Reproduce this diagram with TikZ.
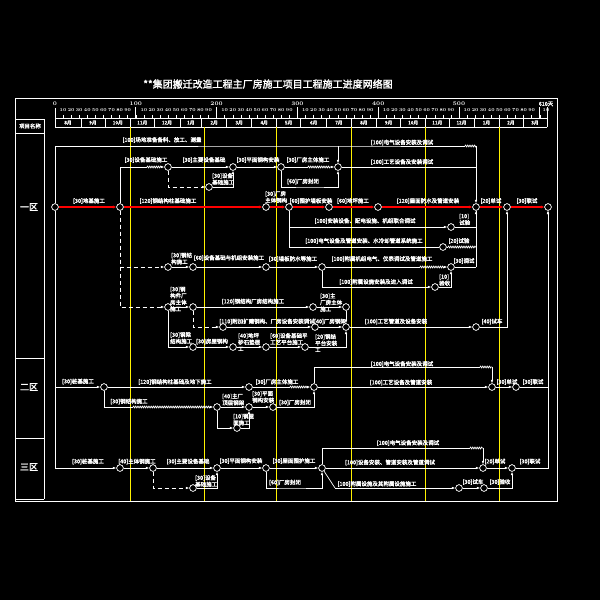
\documentclass[tikz,border=0pt]{standalone}
\usepackage{fontspec}
\newfontfamily\cjk{Noto Sans CJK SC}[AutoFakeBold=2]
\usetikzlibrary{arrows.meta,decorations.pathmorphing}
\begin{document}
\begin{tikzpicture}[x=1pt,y=-1pt,
  nd/.style={circle,draw=white,fill=black,line width=0.6pt,minimum size=6.6pt,inner sep=0pt},
  ln/.style={draw=white,line width=0.7pt},
  ar/.style={ln,-{Latex[length=3.5pt,width=2.6pt]}},
  rar/.style={draw=red,line width=1.8pt,-{Latex[length=3.5pt,width=3.2pt]}},
  ds/.style={dash pattern=on 4pt off 3pt},
  wv/.style={decoration={zigzag,amplitude=0.9pt,segment length=2.2pt}},
  lb/.style={text=white,font=\cjk\bfseries\fontsize{5.5}{6.6}\selectfont,inner sep=0pt,align=left},
  hd/.style={text=white,font=\bfseries\fontsize{4.4}{5}\selectfont,inner sep=0pt},
  hh/.style={text=white,font=\cjk\bfseries\fontsize{5.4}{6}\selectfont,inner sep=0pt},
  fr/.style={draw=white,line width=0.7pt},
  yl/.style={draw=yellow,line width=0.9pt},
]
\fill[black] (0,0) rectangle (600,600);
\useasboundingbox (0,0) rectangle (600,600);

% title
\node[text=white,font=\cjk\bfseries\fontsize{10}{12}\selectfont,inner sep=0pt] (title) at (268,84) {**集团搬迁改造工程主厂房施工项目工程施工进度网络图};

% frame
\draw[fr] (15,98) rectangle (557,501);
\draw[fr] (44,119) -- (44,499);
\draw[fr] (15,119) -- (44,119);
\draw[fr] (15,133) -- (44,133);
\draw[fr] (15,358) -- (44,358);
\draw[fr] (15,438) -- (44,438);
\draw[fr] (15,499) -- (44,499);
\node[hh] (hdr) at (30,126) {项目名称};
\node[text=white,font=\cjk\bfseries\fontsize{9}{10}\selectfont,inner sep=0pt] (z1) at (29,207) {一区};
\node[text=white,font=\cjk\bfseries\fontsize{9}{10}\selectfont,inner sep=0pt] (z2) at (29,387) {二区};
\node[text=white,font=\cjk\bfseries\fontsize{9}{10}\selectfont,inner sep=0pt] (z3) at (29,467) {三区};

% timeline
\draw[fr] (55,108) -- (55,127);
\draw[fr] (547,107) -- (547,127);
\foreach \h/\t in {0/0,1/100,2/200,3/300,4/400,5/500}
  \node[text=white,font=\bfseries\fontsize{5.4}{6}\selectfont,inner sep=0pt] at ({55+80.8*\h},104) {\t};
\node[text=white,font=\cjk\bfseries\fontsize{5.4}{6}\selectfont,inner sep=0pt] at (546,104) {610天};
\foreach \h in {1,...,6} \draw[fr] ({55+80.8*\h},107) -- ({55+80.8*\h},118);
\foreach \h in {0,...,5} \foreach \k in {1,...,9}
  \node[hd] at ({55+80.8*\h+8.08*\k},110.5) {\k0};
\node[hd] at (546,110.5) {10};
\foreach \i in {1,...,60} \draw[white,line width=0.5pt] ({55+8.08*\i},115) -- ({55+8.08*\i},118);
\draw[fr] (55,118) -- (547,118);
\draw[fr] (55,127) -- (547,127);
\foreach \a/\b/\m in {55/81/8月,81/105/9月,105/130.7/10月,130.7/154/11月,154/180/12月,180/201.7/1月,201.7/226.7/2月,226.7/251.7/3月,251.7/276.7/4月,276.7/300.7/5月,300.7/326.7/6月,326.7/351/7月,351/376.7/8月,376.7/400.7/9月,400.7/425.7/10月,425.7/449/11月,449/474/12月,474/499/1月,499/523/2月,523/547/3月}{
  \draw[fr] (\b,118) -- (\b,127);
  \node[hh,font=\cjk\bfseries\fontsize{4.8}{5}\selectfont] at ({(\a+\b)/2},122.7) {\m};
}

% yellow quarter lines
\foreach \x in {130.5,204,276.5,351,425.5,499.3} \draw[yl] (\x,127) -- (\x,501);

% ---------------- nodes
\foreach \n/\x/\y in {A0/55/207,A1/120/207,A2/266/207,A3/289/207,A4/329/207,A5/378/207,A6/476/207,A7/507/207,A8/548/207,
  B1/168/167,B2/233/167,B3/281/167,B4/338/167,B5/209/187,
  G1/451/227,G2/443/247,G3/451/267,G4/435/287,
  H1/168/267,H2/193/267,H3/266/267,H4/322/267,
  I1/168/307,I2/193/307,I3/313/307,I4/346/307,
  J1/223/327,J2/315/327,J3/346/327,J4/476/327,
  K1/193/347,K2/233/347,K3/266/347,K4/305/347,
  C1/104/387,C2/249/387,C3/314/387,C4/492/387,C5/516/387,
  D1/217/407,D2/249/407,D3/273/407,D4/237/428,
  E1/120/468,E2/153/468,E3/217/468,E4/266/468,E5/322/468,E6/483/468,E7/512/468,
  F1/193/488,F2/459/488,F3/484/488}
  \node[nd] (\n) at (\x,\y) {};

% named corner coordinates
\coordinate (t1) at (338,146);
\coordinate (t2) at (465,146);
\coordinate (t3) at (476,146);
\coordinate (b34) at (310,187);
\coordinate (w1) at (147,167);
\coordinate (w2) at (162,167);
\coordinate (w3) at (308,167);
\coordinate (w4) at (331,167);
\coordinate (g2a) at (448,247);
\coordinate (g2b) at (476,247);
\coordinate (h4a) at (420,267);
\coordinate (h4b) at (445,267);
\coordinate (c2a) at (290,387);
\coordinate (c2b) at (308,387);
\coordinate (c3a) at (480,367);
\coordinate (c3b) at (492,367);
\coordinate (d1a) at (133,407);
\coordinate (d1b) at (210,407);
\coordinate (e5a) at (470,448);
\coordinate (e5b) at (483,448);
\coordinate (e5c) at (335,488);
\coordinate (e4a) at (290,488);
\coordinate (a6b) at (476,267);

% ---------------- red critical path
\draw[rar] (A0) -- (A1);
\draw[rar] (A1) -- (A2);
\draw[rar] (A2) -- (A3);
\draw[rar] (A3) -- (A4);
\draw[rar] (A4) -- (A5);
\draw[rar] (A5) -- (A6);
\draw[rar] (A6) -- (A7);
\draw[rar] (A7) -- (A8);

% ---------------- upper branch
\draw[ln] (A0) |- (t1) -- (t2);
\draw[ln] (t2) decorate[wv]{-- (t3)};
\draw[ar] (t1) -- (B4);
\draw[ar] (t3) -- (A6);
\draw[ln] (A1) |- (w1);
\draw[ln] (w1) decorate[wv]{-- (w2)};
\draw[ar] (w2) -- (B1);
\draw[ar] (B1) -- (B2);
\draw[ar] (B2) -- (B3);
\draw[ln] (B3) -- (w3);
\draw[ln] (w3) decorate[wv]{-- (w4)};
\draw[ar] (w4) -- (B4);
\draw[ar,ds] (B1) |- (B5);
\draw[ar] (B5) -| (B2);
\draw[ar] (B3) |- (b34) -| (B4);
\draw[ln] (B4) -- (t3 |- B4);

% ---------------- lower branches of zone 1
\draw[ar] (A3) |- (G1);
\draw[ln] (A3) |- (G2);
\draw[ln] (G1) -| (A6);
\draw[ln] (g2a) decorate[wv]{-- (g2b)};
\draw[ln] (G2) -- (g2a);
\draw[ln] (G3) -- (a6b);
\draw[ar] (a6b) -- (A6);
\draw[ar,ds] (A1) |- (H1);
\draw[ar] (H1) -- (H2);
\draw[ar] (H2) -- (H3);
\draw[ar] (H3) -- (H4);
\draw[ln] (H4) -- (h4a);
\draw[ln] (h4a) decorate[wv]{-- (h4b)};
\draw[ar] (h4b) -- (G3);
\draw[ar] (H4) |- (G4);
\draw[ar] (G4) -| (G3);
\draw[ar,ds] (A1) |- (I1);
\draw[ar] (I1) -- (I2);
\draw[ar] (I2) -- (I3);
\draw[ar] (I3) -- (I4);
\draw[ar] (I4) -- (J3);
\draw[ar] (I1) |- (K1);
\draw[ar,ds] (I2) |- (J1);
\draw[ar] (J1) -- (J2);
\draw[ar] (J2) -- (J3);
\draw[ar] (J3) -- (J4);
\draw[ar] (J4) -| (A7);
\draw[ar] (K1) -- (K2);
\draw[ar] (K2) -- (K3);
\draw[ar] (K3) -- (K4);
\draw[ar] (K4) -| (J3);

% ---------------- zone 2
\draw[ar] (A0) |- (C1);
\draw[ar] (C1) -- (C2);
\draw[ln] (C2) -- (c2a);
\draw[ln] (c2a) decorate[wv]{-- (c2b)};
\draw[ar] (c2b) -- (C3);
\draw[ln] (C3) |- (c3a);
\draw[ln] (c3a) decorate[wv]{-- (c3b)};
\draw[ar] (c3b) -- (C4);
\draw[ar] (C3) -- (C4);
\draw[ar] (C4) -- (C5);
\draw[ar] (C5) -| (A8);
\draw[ln] (C1) |- (d1a);
\draw[ln] (d1a) decorate[wv]{-- (d1b)};
\draw[ar] (d1b) -- (D1);
\draw[ar] (D1) -- (D2);
\draw[ar] (D2) -- (D3);
\draw[ar] (D3) -| (C3);
\draw[ar] (D1) |- (D4);
\draw[ar] (D4) -| (D2);

% ---------------- zone 3
\draw[ar] (A0) |- (E1);
\draw[ar] (E1) -- (E2);
\draw[ar] (E2) -- (E3);
\draw[ar] (E3) -- (E4);
\draw[ar] (E4) -- (E5);
\draw[ar] (E5) -- (E6);
\draw[ar] (E6) -- (E7);
\draw[ar] (E7) -| (A8);
\draw[ln] (E5) |- (e5a);
\draw[ln] (e5a) decorate[wv]{-- (e5b)};
\draw[ar] (e5b) -- (E6);
\draw[ln] (E5) -- (e5c);
\draw[ar] (e5c) -- (F2);
\draw[ar] (F2) -- (F3);
\draw[ar] (F3) -| (E7);
\draw[ar] (E4) |- (e4a) -| (E5);
\draw[ar,ds] (E2) |- (F1);
\draw[ar] (F1) -| (E3);

% redraw nodes on top
\foreach \n in {A0,A1,A2,A3,A4,A5,A6,A7,A8,B1,B2,B3,B4,B5,G1,G2,G3,G4,H1,H2,H3,H4,I1,I2,I3,I4,J1,J2,J3,J4,K1,K2,K3,K4,C1,C2,C3,C4,C5,D1,D2,D3,D4,E1,E2,E3,E4,E5,E6,E7,F1,F2,F3}
  \node[nd] at (\n) {};

% ---------------- labels zone 1
\node[lb] at (89,201) {[30]地基施工};
\node[lb] at (168,201) {[120]钢结构柱基础施工};
\node[lb,anchor=west] at (265,197) {[30]厂房\\主体钢构};
\node[lb] at (311,201) {[60]围护墙板安装};
\node[lb] at (353,201) {[60]地坪施工};
\node[lb] at (428,201) {[120]屋面防水及管道安装};
\node[lb] at (491,201) {[20]单试};
\node[lb] at (527,201) {[30]联试};
\node[lb] at (162,140) {[100]场地准备备料、放工、测量};
\node[lb] at (146,160) {[30]设备基础施工};
\node[lb] at (204,160) {[30]主要设备基础};
\node[lb] at (258,160) {[30]平面钢构安装};
\node[lb] at (308,160) {[30]厂房主体施工};
\node[lb,anchor=west] at (212,179) {[30]设备\\基础施工};
\node[lb] at (303,181.5) {[60]厂房封闭};
\node[lb] at (402,142.5) {[100]电气设备安装及调试};
\node[lb] at (402,162) {[100]工艺设备及安装调试};
\node[lb] at (365,221) {[100]安装设备、配电设施、机组联合调试};
\node[lb,anchor=west] at (459,219.5) {[10]\\试验};
\node[lb] at (364,241) {[100]电气设备及管道安装、水冷却管道系统施工};
\node[lb] at (459,241) {[20]试验};
\node[lb,anchor=west] at (171,258.5) {[30]钢结\\构施工};
\node[lb] at (229,258) {[60]设备基础与机组安装施工};
\node[lb] at (293,259) {[30]墙板防水等施工};
\node[lb] at (382,259) {[100]附属机组电气、仪表调试及管道施工};
\node[lb] at (464,261) {[30]调试};
\node[lb] at (376,282) {[100]附属设施安装及进入调试};
\node[lb,anchor=west] at (439,280) {[10]\\验收};
\node[lb,anchor=west] at (170,299) {[30]钢\\构件厂\\房主体\\施工};
\node[lb] at (253,301.5) {[120]钢结构厂房结构施工};
\node[lb,anchor=west] at (320,302.5) {[30]主\\厂房主体\\施工};
\node[lb] at (267,321.5) {[110]附加扩建钢构、厂房设备安装调试};
\node[lb] at (330,321.5) {[40]厂房钢架};
\node[lb] at (396,321.5) {[100]工艺管道及设备安装};
\node[lb] at (492,321.5) {[40]试车};
\node[lb,anchor=west] at (170,338) {[30]钢梁\\结构施工};
\node[lb] at (212,341.5) {[30]房屋钢构};
\node[lb,anchor=west] at (238,342) {[40]地坪\\砂石垫层\\工};
\node[lb,anchor=west] at (270,339) {[60]设备基础平\\工艺平台施工};
\node[lb,anchor=west] at (315,343) {[20]钢结\\平台安装\\工};

% ---------------- labels zone 2
\node[lb] at (78,381.5) {[30]桩基施工};
\node[lb] at (175,382) {[120]钢结构柱基础及地下施工};
\node[lb] at (277,382) {[30]厂房主体施工};
\node[lb] at (402,364) {[100]电气设备安装及调试};
\node[lb] at (401,382.5) {[100]工艺设备及管道安装};
\node[lb] at (507,382) {[30]单试};
\node[lb] at (533,382) {[30]联试};
\node[lb] at (129,401.5) {[30]钢结构施工};
\node[lb,anchor=west] at (222,399.5) {[40]主厂\\顶层钢架};
\node[lb,anchor=west] at (252,397) {[30]平面\\钢构安装};
\node[lb] at (295,402.5) {[30]厂房封闭};
\node[lb,anchor=west] at (233,419.5) {[10]钢屋\\面施工};

% ---------------- labels zone 3
\node[lb] at (88,461.5) {[30]桩基施工};
\node[lb] at (137,461.5) {[40]主体钢施工};
\node[lb] at (188,461.5) {[30]主要设备基础};
\node[lb] at (241,461) {[30]平面钢构安装};
\node[lb] at (294,461) {[30]屋面围护施工};
\node[lb] at (408,443) {[100]电气设备安装及调试};
\node[lb] at (390,462.5) {[100]设备安装、管道安装及管道调试};
\node[lb] at (495,461.5) {[20]单试};
\node[lb] at (530,461.5) {[30]联试};
\node[lb] at (377,484) {[100]附属设施及其附属设施施工};
\node[lb] at (473,482) {[30]试车};
\node[lb] at (500,482) {[30]验收};
\node[lb] at (285,482.5) {[60]厂房封闭};
\node[lb,anchor=west] at (195,481) {[30]设备\\基础施工};
\end{tikzpicture}
\end{document}
